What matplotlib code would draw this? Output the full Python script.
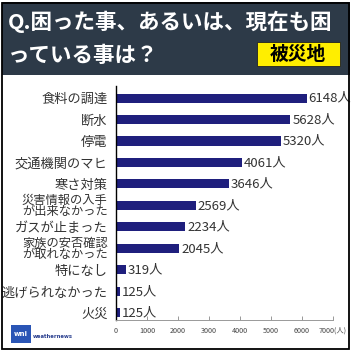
import matplotlib.pyplot as plt
from matplotlib.patches import Rectangle

plt.rcParams["font.family"] = ["Noto Sans CJK JP", "DejaVu Sans"]

categories = [
    "食料の調達",
    "断水",
    "停電",
    "交通機関のマヒ",
    "寒さ対策",
    "災害情報の入手\nが出来なかった",
    "ガスが止まった",
    "家族の安否確認\nが取れなかった",
    "特になし",
    "逃げられなかった",
    "火災",
]
values = [6148, 5628, 5320, 4061, 3646, 2569, 2234, 2045, 319, 125, 125]
xticks = [0, 1000, 2000, 3000, 4000, 5000, 6000, 7000]
xtick_labels = ["0", "1000", "2000", "3000", "4000", "5000", "6000", "7000(人)"]

W = H = 352
fig = plt.figure(figsize=(3.52, 3.52), dpi=100)
fig.patch.set_facecolor("white")

# header band and outer frame
fig.patches.append(Rectangle((2 / W, 1 - 75 / H), 348 / W, 73 / H, transform=fig.transFigure,
                             facecolor="#2d3a48", edgecolor="none", zorder=0))
fig.patches.append(Rectangle((2 / W, 3 / H), 347 / W, 346 / H, transform=fig.transFigure,
                             facecolor="none", edgecolor="black", linewidth=1.3, zorder=5))
fig.text(8 / W, 1 - 22 / H, "Q.困った事、あるいは、現在も困", color="white", fontsize=15.5,
         fontweight="bold", va="center", ha="left")
fig.text(8 / W, 1 - 55 / H, "っている事は？", color="white", fontsize=15.5,
         fontweight="bold", va="center", ha="left")
fig.patches.append(Rectangle((257 / W, 1 - 66 / H), 83 / W, 24 / H, transform=fig.transFigure,
                             facecolor="#ffee00", edgecolor="#222222", linewidth=0.6, zorder=1))
fig.text(298 / W, 1 - 54 / H, "被災地", color="black", fontsize=13.5, fontweight="bold",
         va="center", ha="center", zorder=2)

# logo
fig.patches.append(Rectangle((11 / W, 1 - 343 / H), 20 / W, 18 / H, transform=fig.transFigure,
                             facecolor="#2a55b5", edgecolor="none", zorder=1))
fig.text(21 / W, 1 - 334 / H, "wni", color="white", fontsize=5, fontweight="bold",
         va="center", ha="center", family="DejaVu Sans", zorder=2)
fig.text(33 / W, 1 - 336 / H, "weathernews", color="#2a3f8f", fontsize=3.8,
         fontweight="bold", va="center", ha="left", family="DejaVu Sans")

ax = fig.add_axes([116 / W, 1 - 320 / H, 217 / W, 234 / H])
pos = list(range(len(categories)))
ax.barh(pos, values, height=0.42, color="#1f1f7d", zorder=2)
for p, v in zip(pos, values):
    ax.text(v + 60, p, f"{v}人", va="center", ha="left", fontsize=9.5, color="#333333")

ax.set_xlim(0, 7000)
ax.set_ylim(10.33, -0.56)
ax.set_yticks(pos)
ax.set_yticklabels(categories, fontsize=9.5, color="#333333")
for lab in ax.get_yticklabels():
    if "\n" in lab.get_text():
        lab.set_fontsize(8.8)
        lab.set_linespacing(0.82)
ax.set_xticks(xticks)
ax.set_xticklabels(xtick_labels, fontsize=5.2, color="#444444")
ax.tick_params(axis="y", length=0, pad=6)
ax.tick_params(axis="x", direction="in", length=3, width=0.6, color="#888888", pad=5)

for side in ["top", "right"]:
    ax.spines[side].set_visible(False)
ax.spines["left"].set_color("black")
ax.spines["left"].set_linewidth(1.0)
ax.spines["bottom"].set_color("#999999")
ax.spines["bottom"].set_linewidth(0.7)
ax.set_facecolor("none")

fig.savefig("out.png", dpi=100)
